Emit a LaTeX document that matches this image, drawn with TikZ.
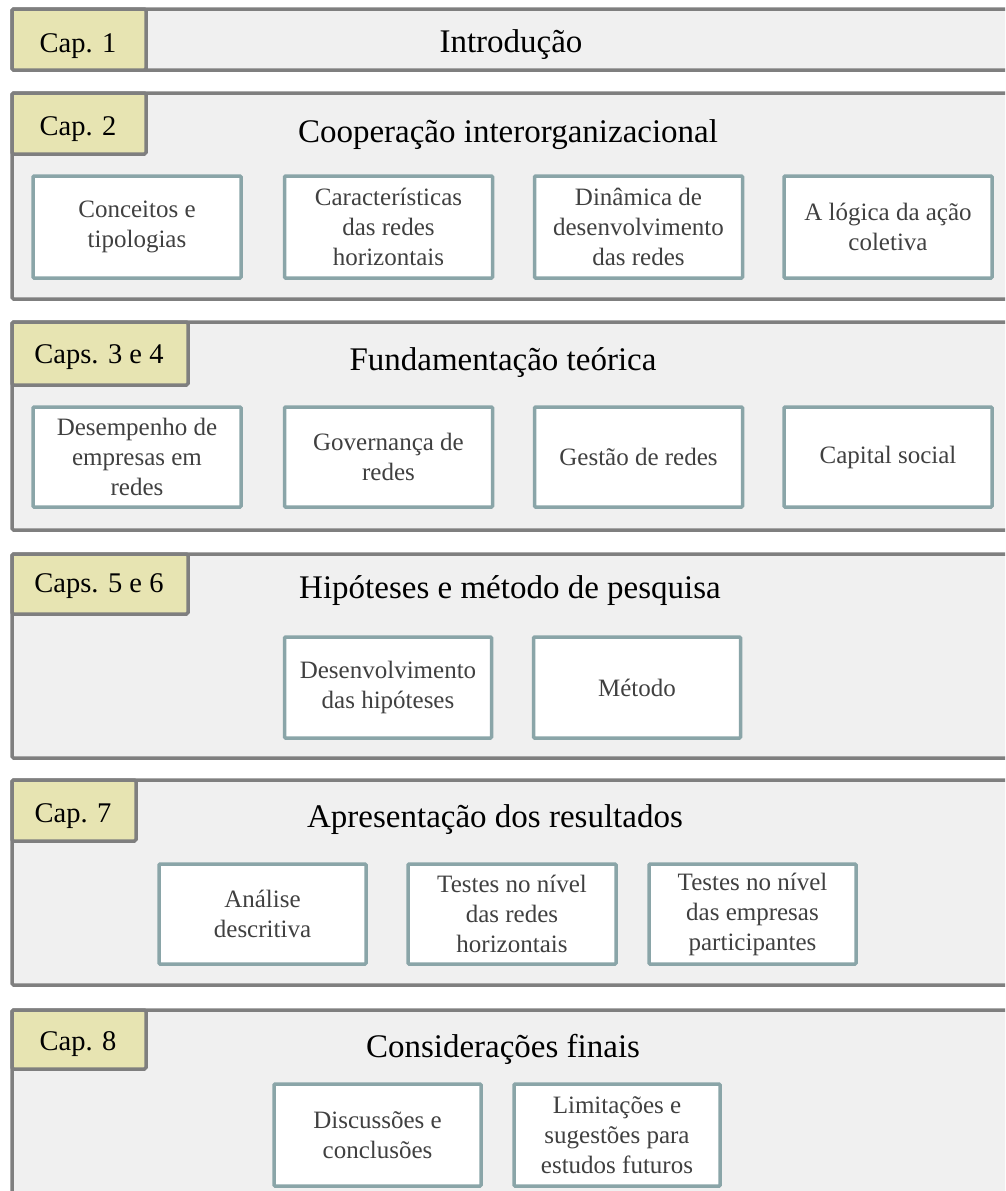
\documentclass[tikz,border=0pt]{standalone}
\usepackage{fontspec}
\setmainfont{Liberation Serif}
\definecolor{panelfill}{HTML}{F0F0F0}
\definecolor{panelline}{HTML}{7F7F7F}
\definecolor{capfill}{HTML}{E7E4B2}
\definecolor{boxline}{HTML}{8AA5A8}
\definecolor{boxtext}{HTML}{404040}
\tikzset{
  panel/.style={fill=panelfill, draw=panelline, line width=3.5pt, rounded corners=1.5pt},
  captab/.style={fill=capfill, draw=panelline, line width=3.5pt, rounded corners=1.5pt,
    inner sep=0pt, outer sep=0pt, anchor=north west},
  captext/.style={inner sep=0pt, anchor=base, font=\fontsize{28.5}{32}\selectfont},
  heading/.style={inner sep=0pt, anchor=base, font=\fontsize{33}{38}\selectfont},
  subbox/.style={fill=white, draw=boxline, line width=3.5pt, rounded corners=1pt,
    inner sep=0pt, outer sep=0pt, align=center, text=boxtext,
    font=\fontsize{25}{30}\selectfont},
}
\begin{document}
\begin{tikzpicture}[x=1pt, y=-1pt]
  \useasboundingbox (0,0) rectangle (1005,1191);
  \clip (0,0) rectangle (1005,1191);

  % Cap. 1
  \draw[panel] (12,9) rectangle (1030,70);
  \node[captab, minimum width=134pt, minimum height=61pt] (cap1) at (12,9) {};
  \node[captext] (cap1t) at (78,52) {Cap. 1};
  \node[heading] (t1) at (511,52) {Introdução};

  % Cap. 2
  \draw[panel] (12,93) rectangle (1030,299);
  \node[captab, minimum width=134pt, minimum height=61pt] (cap2) at (12,93) {};
  \node[captext] (cap2t) at (78,135) {Cap. 2};
  \node[heading] (t2) at (508,142) {Cooperação interorganizacional};
  \node[subbox, minimum width=208pt, minimum height=102pt] (b21) at (137,227) {Conceitos e\\tipologias};
  \node[subbox, minimum width=208pt, minimum height=102pt] (b22) at (388.5,227) {Características\\das redes\\horizontais};
  \node[subbox, minimum width=208pt, minimum height=102pt] (b23) at (638.5,227) {Dinâmica de\\desenvolvimento\\das redes};
  \node[subbox, minimum width=208pt, minimum height=102pt] (b24) at (888,227) {A lógica da ação\\coletiva};

  % Caps. 3 e 4
  \draw[panel] (12,322) rectangle (1030,530);
  \node[captab, minimum width=176pt, minimum height=63pt] (cap3) at (12,322) {};
  \node[captext] (cap3t) at (99,363) {Caps. 3 e 4};
  \node[heading] (t3) at (503,370) {Fundamentação teórica};
  \node[subbox, minimum width=208pt, minimum height=100pt] (b31) at (137,457) {Desempenho de\\empresas em\\redes};
  \node[subbox, minimum width=208pt, minimum height=100pt] (b32) at (388.5,457) {Governança de\\redes};
  \node[subbox, minimum width=208pt, minimum height=100pt] (b33) at (638.5,457) {Gestão de redes};
  \node[subbox, minimum width=208pt, minimum height=100pt] (b34) at (888,457) {Capital social};

  % Caps. 5 e 6
  \draw[panel] (12,554) rectangle (1030,758);
  \node[captab, minimum width=176pt, minimum height=60pt] (cap5) at (12,554) {};
  \node[captext] (cap5t) at (99,592) {Caps. 5 e 6};
  \node[heading] (t4) at (510,598) {Hipóteses e método de pesquisa};
  \node[subbox, minimum width=207pt, minimum height=101pt] (b41) at (388,687.5) {Desenvolvimento\\das hipóteses};
  \node[subbox, minimum width=207pt, minimum height=101pt] (b42) at (637,687.5) {Método};

  % Cap. 7
  \draw[panel] (12,780) rectangle (1030,985);
  \node[captab, minimum width=124pt, minimum height=61pt] (cap7) at (12,780) {};
  \node[captext] (cap7t) at (73,822) {Cap. 7};
  \node[heading] (t5) at (495,827) {Apresentação dos resultados};
  \node[subbox, minimum width=207pt, minimum height=100pt] (b51) at (262.5,914) {Análise\\descritiva};
  \node[subbox, minimum width=208pt, minimum height=100pt] (b52) at (512,914) {Testes no nível\\das redes\\horizontais};
  \node[subbox, minimum width=207pt, minimum height=100pt] (b53) at (752.5,914) {Testes no nível\\das empresas\\participantes};

  % Cap. 8
  \draw[panel] (12,1010) rectangle (1030,1240);
  \node[captab, minimum width=134pt, minimum height=59pt] (cap8) at (12,1010) {};
  \node[captext] (cap8t) at (78,1050) {Cap. 8};
  \node[heading] (t6) at (503,1057) {Considerações finais};
  \node[subbox, minimum width=207pt, minimum height=102pt] (b61) at (377.5,1135) {Discussões e\\conclusões};
  \node[subbox, minimum width=206pt, minimum height=102pt] (b62) at (617,1135) {Limitações e\\sugestões para\\estudos futuros};
\end{tikzpicture}
\end{document}
